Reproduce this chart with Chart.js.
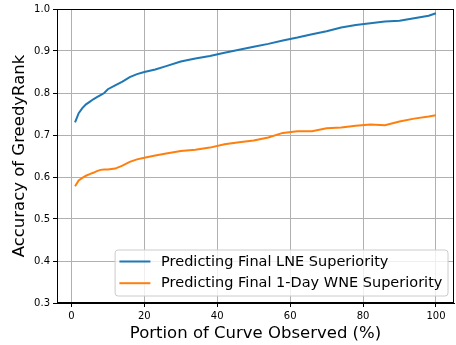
<html>
<head>
<script src="https://cdn.jsdelivr.net/npm/chart.js@4.4.0/dist/chart.umd.min.js"></script>
<style>
  body { margin: 0; background: #fff; }
  #wrap { width: 456px; height: 345px; }
</style>
</head>
<body>
<div id="wrap"><canvas id="myChart" width="456" height="345"></canvas></div>
<script>
// portion of curve observed (%)
var portion = [1, 2, 3, 4, 5, 6, 7, 8, 9, 10, 12, 14, 16, 18, 20, 23, 26, 30, 34, 38,
               42, 46, 50, 54, 58, 62, 66, 70, 74, 78, 82, 86, 90, 94, 98, 100];
var lneAccuracy = [0.730, 0.752, 0.764, 0.773, 0.779, 0.785, 0.790, 0.795, 0.800, 0.809,
                   0.818, 0.827, 0.838, 0.845, 0.850, 0.856, 0.864, 0.875, 0.882, 0.888,
                   0.896, 0.903, 0.910, 0.917, 0.925, 0.932, 0.940, 0.947, 0.956, 0.962,
                   0.966, 0.970, 0.972, 0.978, 0.984, 0.990];
var wneAccuracy = [0.578, 0.592, 0.598, 0.603, 0.607, 0.610, 0.614, 0.617, 0.618, 0.618,
                   0.620, 0.627, 0.636, 0.642, 0.646, 0.651, 0.656, 0.662, 0.665, 0.670,
                   0.678, 0.683, 0.687, 0.694, 0.705, 0.709, 0.709, 0.716, 0.718, 0.722,
                   0.725, 0.723, 0.732, 0.739, 0.744, 0.747];
var xTicks = [0, 20, 40, 60, 80, 100];
var yTicks = [0.3, 0.4, 0.5, 0.6, 0.7, 0.8, 0.9, 1.0];
var seriesLabels = ['Predicting Final LNE Superiority', 'Predicting Final 1-Day WNE Superiority'];

function toPoints(xs, ys) {
  var pts = [];
  for (var i = 0; i < xs.length; ++i) {
    pts.push({x: xs[i], y: ys[i]});
  }
  return pts;
}

var FONT = 'DejaVu Sans';

// top/right spines
var frame = {
  id: 'frame',
  afterDraw: function(chart) {
    var ctx = chart.ctx, a = chart.chartArea;
    ctx.save();
    ctx.strokeStyle = '#000';
    ctx.lineWidth = 1;
    ctx.strokeRect(a.left + 0.5, a.top + 0.5, a.right - a.left - 1, a.bottom - a.top - 1);
    ctx.restore();
  }
};

// matplotlib style legend inside lower right
var innerLegend = {
  id: 'innerLegend',
  afterDraw: function(chart) {
    var ctx = chart.ctx, a = chart.chartArea;
    ctx.save();
    ctx.font = '14.5px "' + FONT + '"';
    var tw = 0;
    chart.data.datasets.forEach(function(ds) {
      tw = Math.max(tw, ctx.measureText(ds.label).width);
    });
    var w = 4.3 + 31 + 10.7 + tw + 5.6;
    var h = 46;
    var right = a.right - 6, bottom = a.bottom - 7;
    var x0 = right - w, y0 = bottom - h;
    ctx.beginPath();
    ctx.roundRect(x0, y0, w, h, 3);
    ctx.fillStyle = 'rgba(255,255,255,0.8)';
    ctx.fill();
    ctx.strokeStyle = '#cccccc';
    ctx.lineWidth = 1;
    ctx.stroke();
    chart.data.datasets.forEach(function(ds, i) {
      var yy = y0 + 11.5 + i * 21.7;
      ctx.strokeStyle = ds.borderColor;
      ctx.lineWidth = 2;
      ctx.beginPath();
      ctx.moveTo(x0 + 4.3, yy);
      ctx.lineTo(x0 + 35.3, yy);
      ctx.stroke();
      ctx.fillStyle = '#000';
      ctx.textBaseline = 'middle';
      ctx.fillText(ds.label, x0 + 46, yy + 0.5);
    });
    ctx.restore();
  }
};

var ctx = document.getElementById('myChart').getContext('2d');
var chart = new Chart(ctx, {
  type: 'line',
  data: {
    datasets: [{
      label: seriesLabels[0],
      data: toPoints(portion, lneAccuracy),
      borderColor: '#1f77b4',
      backgroundColor: '#1f77b4',
      borderWidth: 2,
      pointRadius: 0,
      tension: 0
    }, {
      label: seriesLabels[1],
      data: toPoints(portion, wneAccuracy),
      borderColor: '#ff7f0e',
      backgroundColor: '#ff7f0e',
      borderWidth: 2,
      pointRadius: 0,
      tension: 0
    }]
  },
  options: {
    responsive: false,
    animation: false,
    devicePixelRatio: 1,
    layout: { padding: { left: 0, right: 2, top: 7, bottom: 0 } },
    plugins: { legend: { display: false }, tooltip: { enabled: false } },
    scales: {
      x: {
        type: 'linear',
        min: -3.95,
        max: 104.95,
        afterBuildTicks: function(s) { s.ticks = xTicks.map(function(v) { return {value: v}; }); },
        afterFit: function(s) { s.height = 42; },
        grid: { color: '#b0b0b0', lineWidth: 1, drawTicks: true, tickLength: 4, tickColor: '#000' },
        border: { color: '#000', width: 1 },
        ticks: { color: '#000', font: { family: FONT, size: 10 }, padding: 3, maxRotation: 0 },
        title: { display: true, text: 'Portion of Curve Observed (%)', color: '#000',
                 font: { family: FONT, size: 16.5, lineHeight: 1.2 }, padding: { top: 0, bottom: 1.6 } }
      },
      y: {
        min: 0.3,
        max: 1.0,
        afterBuildTicks: function(s) { s.ticks = yTicks.map(function(v) { return {value: v}; }); },
        afterFit: function(s) { s.width = 57; },
        grid: { color: '#b0b0b0', lineWidth: 1, drawTicks: true, tickLength: 4, tickColor: '#000' },
        border: { color: '#000', width: 1 },
        ticks: { color: '#000', font: { family: FONT, size: 10 }, padding: 3,
                 callback: function(v) { return v.toFixed(1); } },
        title: { display: true, text: 'Accuracy of GreedyRank', color: '#000',
                 font: { family: FONT, size: 16.5, lineHeight: 1.2 }, padding: { top: 10, bottom: 0 } }
      }
    }
  },
  plugins: [frame, innerLegend]
});
</script>
</body>
</html>
